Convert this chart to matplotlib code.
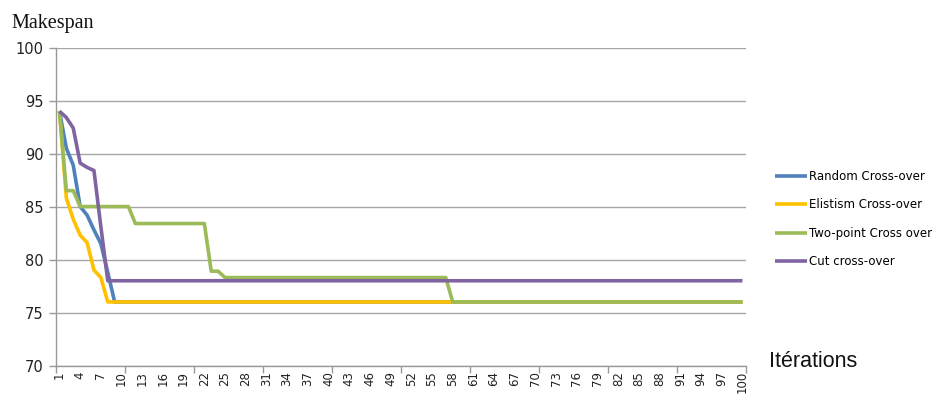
import numpy as np
import matplotlib
matplotlib.use('Agg')
import matplotlib.pyplot as plt

# Makespan per iteration for each crossover operator (100 iterations)
iterations = np.arange(1, 101)

random_head = [94.0, 90.5, 88.9, 85.0, 84.2, 82.8, 81.5, 78.8, 76.0]
random_co = random_head + [76.0] * (100 - len(random_head))

elitism_head = [94.0, 85.8, 83.8, 82.3, 81.6, 79.0, 78.3, 76.0]
elitism_co = elitism_head + [76.0] * (100 - len(elitism_head))

# two-point: plateaus at 85.0 (it 4-11), 83.4 (12-22), 78.9 (23-24), 78.3 (25-57), 76.0 (58-100)
two_point_co = ([94.0, 86.5, 86.5] + [85.0] * 8 + [83.4] * 11 + [78.9] * 2
                + [78.3] * 33 + [76.0] * 43)

cut_head = [94.0, 93.4, 92.4, 89.1, 88.7, 88.4, 83.1, 78.0]
cut_co = cut_head + [78.0] * (100 - len(cut_head))

series_names = ['Random Cross-over', 'Elistism Cross-over',
                'Two-point Cross over', 'Cut cross-over']
series_values = [random_co, elitism_co, two_point_co, cut_co]
series_colors = ['#4F81BD', '#FFC000', '#9BBB59', '#8064A2']

y_ticks = [70, 75, 80, 85, 90, 95, 100]
x_labels = list(range(1, 101, 3))

fig = plt.figure(figsize=(9.43, 3.97), dpi=100)
ax = fig.add_axes([0.0594, 0.0793, 0.7316, 0.8007])

for name, vals, col in zip(series_names, series_values, series_colors):
    ax.plot(iterations, vals, color=col, linewidth=2.6, label=name,
            solid_joinstyle='round', solid_capstyle='butt')

ax.set_xlim(0.5, 100.5)
ax.set_ylim(70, 100)

# value axis
ax.set_yticks(y_ticks)
ax.tick_params(axis='y', length=5, width=1, color='#999999', labelsize=10.5,
               labelcolor='#222222', pad=4)
ax.grid(axis='y', color='#A6A6A6', linewidth=1)
ax.set_axisbelow(True)

# category axis: marks between categories every 10, labels every 3
ax.set_xticks(np.arange(0.5, 101, 10))
ax.set_xticklabels([])
ax.tick_params(axis='x', which='major', length=5, width=1, color='#999999')
ax.set_xticks(x_labels, minor=True)
ax.set_xticklabels([str(v) for v in x_labels], minor=True, rotation=90,
                   fontsize=8.5, color='#222222')
ax.tick_params(axis='x', which='minor', length=0, pad=4)

for side in ['top', 'right']:
    ax.spines[side].set_visible(False)
for side in ['left', 'bottom']:
    ax.spines[side].set_color('#999999')
    ax.spines[side].set_linewidth(1)

fig.text(0.012, 0.93, 'Makespan', family='Liberation Serif', fontsize=14.5,
         ha='left', va='baseline', color='#111111')
fig.text(0.816, 0.075, 'Itérations', family='Liberation Sans', fontsize=15.5,
         ha='left', va='baseline', color='#111111')

fig.legend(loc='center left', bbox_to_anchor=(0.822, 0.448), frameon=False,
           fontsize=8.5, handlelength=2.7, handletextpad=0.15,
           labelspacing=1.3, borderpad=0, borderaxespad=0)

fig.savefig('out.png', dpi=100)
